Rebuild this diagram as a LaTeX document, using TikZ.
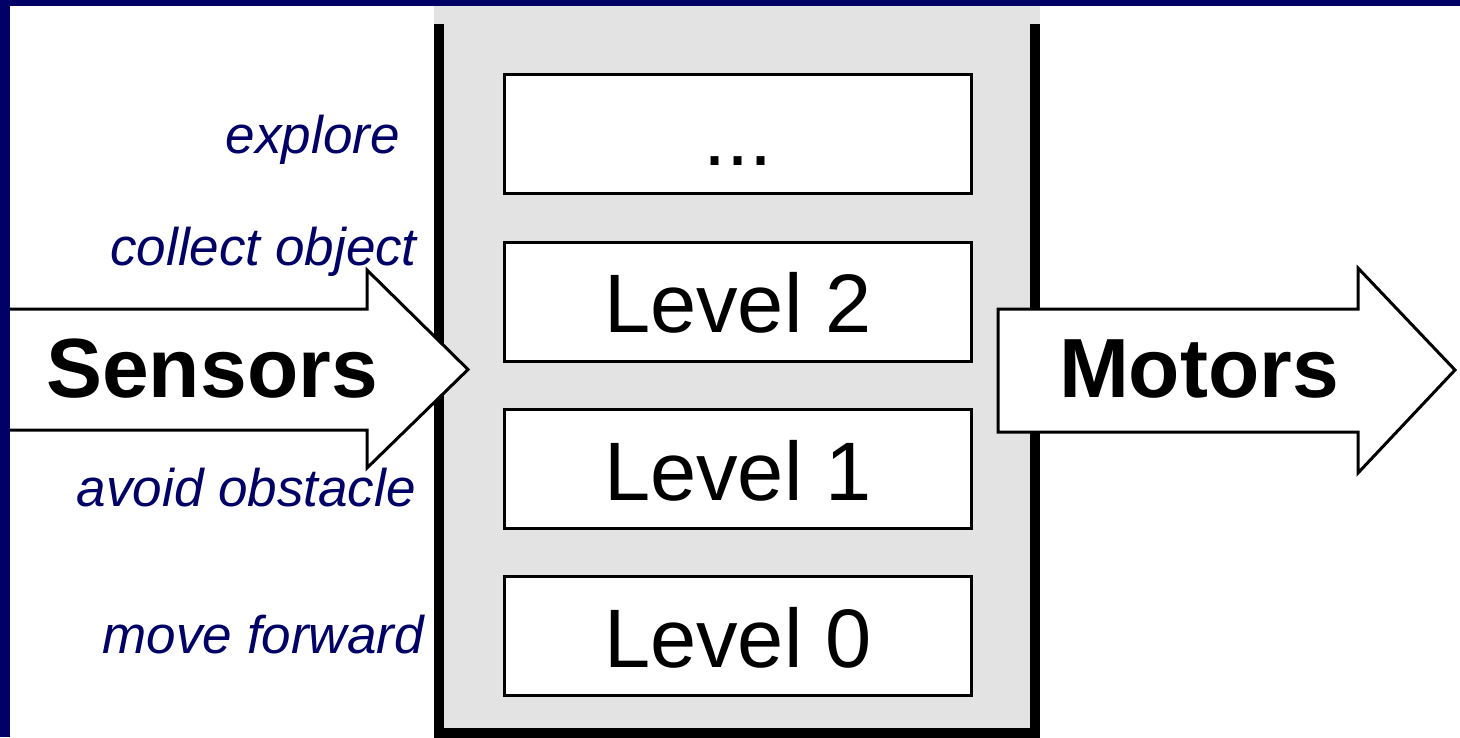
\documentclass[tikz,border=0pt]{standalone}
\usepackage{fontspec}
\setmainfont{Liberation Sans}
\definecolor{navy}{RGB}{0,0,102}
\definecolor{panel}{RGB}{227,227,227}
\begin{document}
\begin{tikzpicture}[x=1pt,y=-1pt,
  levelbox/.style={draw=black, line width=3pt, fill=white, minimum width=467pt, minimum height=119pt, inner sep=0pt, text height=62pt, text depth=0pt, font=\fontsize{83}{90}\selectfont},
  behav/.style={anchor=base east, text=navy, inner sep=0pt, font=\fontsize{53}{60}\selectfont\itshape},
  bigarrow/.style={draw=black, line width=3pt, fill=white, line join=miter},
  iolabel/.style={anchor=base, inner sep=0pt, font=\fontsize{84}{90}\selectfont\bfseries}]
\useasboundingbox (0,0) rectangle (1460,737);
\fill[white] (0,0) rectangle (1460,737);
% panel
\fill[panel] (434,6) rectangle (1040,737);
\draw[line width=10pt] (439,24) -- (439,732.5) -- (1035,732.5) -- (1035,24);
% levels
\node[levelbox] (ldots) at (738,134) {...};
\node[levelbox] (l2) at (738,301.5) {Level 2};
\node[levelbox] (l1) at (738,469) {Level 1};
\node[levelbox] (l0) at (738,636) {Level 0};
% arrows
\draw[bigarrow] (4,309) -- (367,309) -- (367,270) -- (468,369.5) -- (367,468) -- (367,430) -- (4,430) -- cycle;
\draw[bigarrow] (998,309) -- (1358,309) -- (1358,268) -- (1455,370) -- (1358,473) -- (1358,432) -- (998,432) -- cycle;
\node[iolabel] (sensors) at (212,397) {Sensors};
\node[iolabel] (motors) at (1199,397) {Motors};
% behaviours
\node[behav] (explore) at (400,153) {explore};
\node[behav] (collect) at (417,265) {collect object};
\node[behav] (avoid) at (416,506) {avoid obstacle};
\node[behav] (move) at (424,653) {move forward};
% frame
\fill[navy] (0,0) rectangle (1460,6);
\fill[navy] (0,0) rectangle (10,737);
\end{tikzpicture}
\end{document}
